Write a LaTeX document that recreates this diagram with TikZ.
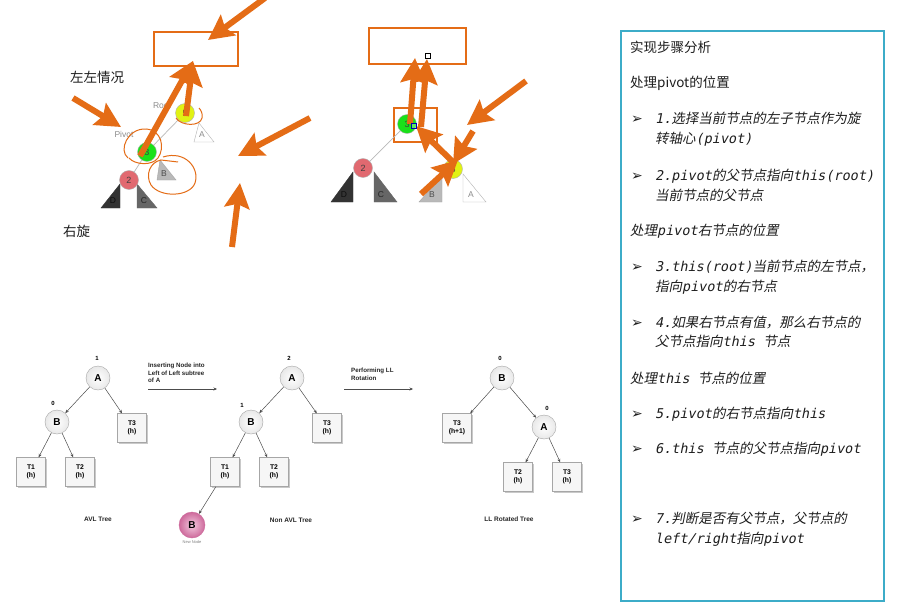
\documentclass[tikz,border=0pt]{standalone}
\usepackage{fontspec}
\setmainfont{Liberation Sans}
\newfontfamily\cjk{Noto Sans CJK SC}
\newfontfamily\cjki{Noto Sans CJK SC}[FakeSlant=0.2]
\newfontfamily\monoi{DejaVu Sans Mono}[FakeSlant=0.2]
\newfontfamily\dingf{DejaVu Sans}
\newcommand\zhI[1]{{\cjki #1}}
\newcommand\enI[1]{{\monoi #1}}
\usetikzlibrary{arrows.meta,shadows}
\definecolor{ann}{RGB}{228,108,22}
\definecolor{panel}{RGB}{60,172,200}
\definecolor{ngreen}{RGB}{25,225,25}
\definecolor{nyellow}{RGB}{225,242,20}
\definecolor{nred}{RGB}{225,105,112}
\definecolor{pinkin}{RGB}{242,200,222}
\definecolor{pinkout}{RGB}{205,105,155}
\definecolor{txt}{RGB}{30,30,30}
\begin{document}
\begin{tikzpicture}[x=1pt,y=-1pt,
  annarrow/.style={draw=ann, line width=6pt, -{Stealth[length=25pt,width=25pt,inset=4pt]}},
  annloop/.style={draw=ann, line width=1pt},
  annbox/.style={draw=ann, line width=1.6pt, inner sep=0pt},
  tnode/.style={circle, draw=gray!60, minimum size=19pt, inner sep=0pt, font=\fontsize{9}{9}\selectfont, text=black!75},
  tlab/.style={font=\fontsize{8.5}{9}\selectfont, text=gray!90},
  tedge/.style={draw=gray!55, line width=0.7pt},
  bcirc/.style={circle, draw=gray!70, minimum size=24pt, inner sep=0pt, inner color=white, outer color=gray!18, font=\bfseries\fontsize{10}{10}\selectfont},
  bbox/.style={draw=gray!70, minimum size=29pt, inner sep=0pt, fill=gray!7, drop shadow={shadow xshift=1.8pt, shadow yshift=-1.8pt, fill=gray!70, opacity=0.6}, align=center, font=\bfseries\fontsize{6.8}{8.2}\selectfont},
  bedge/.style={draw=black!70, line width=0.5pt, -{Stealth[length=3.5pt,width=3pt]}},
  blab/.style={font=\bfseries\fontsize{6.5}{8}\selectfont, text=black!85},
  bnum/.style={font=\bfseries\fontsize{6}{6}\selectfont},
  ptxt/.style={anchor=base west, font=\fontsize{13.5}{16}\selectfont, text=txt, inner sep=0pt},
  bul/.style={anchor=base west, font=\dingf\fontsize{14}{16}\selectfont, text=txt, inner sep=0pt}
]
\useasboundingbox (0,0) rectangle (901,607);
\fill[white] (0,0) rectangle (901,607);

% ---------------- top-left: left-left case ----------------
\node[ptxt] (ll) at (70,83) {\cjk 左左情况};
\node[ptxt] (rr) at (63,236) {\cjk 右旋};
\node[annbox, minimum width=84pt, minimum height=34pt] (boxL) at (196,49) {};

\draw[fill=white, draw=gray!60] (199,123) -- (194,142) -- (214,142) -- cycle;
\draw[fill=gray!55, draw=gray!70] (160,160) -- (157,180) -- (176,180) -- cycle;
\draw[fill=black!80, draw=black!80] (120,184) -- (101,208) -- (120,208) -- cycle;
\draw[fill=black!60, draw=black!60] (137,184) -- (137,208) -- (157,208) -- cycle;
\node[tlab] (lA) at (202,135) {A};
\node[tlab, text=black!70] (lB) at (164,174) {B};
\node[tlab, text=black!95] (lD) at (113,201) {D};
\node[tlab, text=black!85] (lC) at (144,201) {C};

\node[tnode, fill=nyellow] (n5) at (185,113) {5};
\node[tnode, fill=ngreen] (n3) at (147,152) {3};
\node[tnode, fill=nred] (n2) at (129,180) {2};
\draw[tedge] (n5) -- (n3);
\draw[tedge] (n3) -- (n2);
\node[tlab] (root) at (162,106) {Root};
\node[tlab] (pivot) at (124,134) {Pivot};

% hand-drawn loops
\draw[annloop] (128,158) .. controls (118,150) and (128,128) .. (146,129)
   .. controls (162,130) and (165,148) .. (158,158) .. controls (152,166) and (135,165) .. (129,158);
\draw[annloop] (163,157) .. controls (185,150) and (200,168) .. (195,183)
   .. controls (190,197) and (160,198) .. (151,185) .. controls (145,175) and (150,162) .. (161,160) -- (178,162);
\draw[annloop] (176,118) .. controls (181,126) and (200,127) .. (202,118) .. controls (203,114) and (201,110) .. (199,108);

% annotation arrows
\coordinate (a1s) at (265,-2);   \coordinate (a1e) at (208,40);
\coordinate (a2s) at (73,98);    \coordinate (a2e) at (121,127);
\coordinate (a3s) at (140,156);  \coordinate (a3e) at (193,61);
\coordinate (a4s) at (186,116);  \coordinate (a4e) at (193,61);
\coordinate (a5s) at (310,118);  \coordinate (a5e) at (238,156);
\coordinate (a6s) at (232,247);  \coordinate (a6e) at (240,183);
\draw[annarrow] (a1s) -- (a1e);
\draw[annarrow] (a2s) -- (a2e);
\draw[annarrow] (a3s) -- (a3e);
\draw[annarrow] (a4s) -- (a4e);
\draw[annarrow] (a5s) -- (a5e);
\draw[annarrow] (a6s) -- (a6e);

% ---------------- top-middle: after rotation ----------------
\node[annbox, minimum width=97pt, minimum height=36pt] (boxM) at (417.5,46) {};
\node[annbox, minimum width=43pt, minimum height=34pt] (boxP) at (415.5,125) {};

\draw[fill=black!80, draw=black!80] (353,172) -- (331,202) -- (353,202) -- cycle;
\draw[fill=black!60, draw=black!60] (374,172) -- (374,202) -- (397,202) -- cycle;
\draw[fill=gray!55, draw=gray!70] (442,176) -- (419,202) -- (442,202) -- cycle;
\draw[fill=white, draw=gray!60] (463,174) -- (463,202) -- (486,202) -- cycle;
\node[tlab, text=black!95] (mD) at (344,195) {D};
\node[tlab, text=black!85] (mC) at (381,195) {C};
\node[tlab, text=black!70] (mB) at (432,195) {B};
\node[tlab] (mA) at (471,195) {A};

\node[tnode, fill=ngreen] (m3) at (407,124) {3};
\node[tnode, fill=nred] (m2) at (363,168) {2};
\node[tnode, fill=nyellow] (m5) at (453,169) {5};
\draw[tedge] (m3) -- (m2);
\node[draw=black, fill=white, minimum size=5pt, inner sep=0pt, line width=0.6pt] (sqk) at (428,56) {};

\coordinate (b1s) at (410,124);  \coordinate (b1e) at (415,58);
\coordinate (b2s) at (421,127);  \coordinate (b2e) at (427,59);
\coordinate (b3s) at (526,81);   \coordinate (b3e) at (467,125);
\coordinate (b4s) at (473,131);  \coordinate (b4e) at (453,164);
\coordinate (b5s) at (421,194);  \coordinate (b5e) at (458,160);
\coordinate (b6s) at (453,162);  \coordinate (b6e) at (416,126);
\draw[annarrow] (b1s) -- (b1e);
\draw[annarrow] (b2s) -- (b2e);
\draw[annarrow] (b3s) -- (b3e);
\draw[annarrow] (b4s) -- (b4e);
\draw[annarrow] (b5s) -- (b5e);
\draw[annarrow] (b6s) -- (b6e);
\node[draw=blue!70!black, fill=white, fill opacity=0.3, minimum size=5pt, inner sep=0pt, line width=0.6pt] (sqb) at (414,126) {};

% ---------------- bottom: AVL trees ----------------
% tree 1
\node[bcirc] (A1) at (98,378) {A};
\node[bcirc] (B1) at (57,422) {B};
\node[bbox] (T3a) at (132,428) {T3\\(h)};
\node[bbox] (T1a) at (31,472) {T1\\(h)};
\node[bbox] (T2a) at (80,472) {T2\\(h)};
\node[bnum] (nA1) at (97,358) {1};
\node[bnum] (nB1) at (53,403) {0};
\draw[bedge] (A1) -- (B1);
\draw[bedge] (A1) -- (T3a);
\draw[bedge] (B1) -- (T1a);
\draw[bedge] (B1) -- (T2a);
\node[blab] (cap1) at (98,519) {AVL Tree};

\node[blab, anchor=north west, align=left, inner sep=0pt, font=\bfseries\fontsize{6.2}{7.4}\selectfont] (ins) at (148,363) {Inserting Node into\\Left of Left subtree\\of A};
\coordinate (ar1s) at (148,389); \coordinate (ar1e) at (217,389);
\draw[bedge] (ar1s) -- (ar1e);

% tree 2
\node[bcirc] (A2) at (292,378) {A};
\node[bcirc] (B2) at (251,422) {B};
\node[bbox] (T3b) at (327,428) {T3\\(h)};
\node[bbox] (T1b) at (225,472) {T1\\(h)};
\node[bbox] (T2b) at (274,472) {T2\\(h)};
\node[bnum] (nA2) at (289,358) {2};
\node[bnum] (nB2) at (242,405) {1};
\node[bcirc, minimum size=26pt, inner color=pinkin, outer color=pinkout, draw=pinkout] (NB) at (192,525) {B};
\node[font=\fontsize{4}{4}\selectfont, text=gray] (nn) at (192,542) {New Node};
\draw[bedge] (A2) -- (B2);
\draw[bedge] (A2) -- (T3b);
\draw[bedge] (B2) -- (T1b);
\draw[bedge] (B2) -- (T2b);
\draw[bedge] (T1b) -- (NB);
\node[blab] (cap2) at (291,520) {Non AVL Tree};

\node[blab, anchor=north west, align=left, inner sep=0pt, font=\bfseries\fontsize{6.2}{7.4}\selectfont] (perf) at (351,368) {Performing LL\\Rotation};
\coordinate (ar2s) at (344,389); \coordinate (ar2e) at (413,389);
\draw[bedge] (ar2s) -- (ar2e);

% tree 3
\node[bcirc] (B3) at (502,378) {B};
\node[bcirc] (A3) at (544,427) {A};
\node[bbox] (T3c) at (457,428) {T3\\(h+1)};
\node[bbox] (T2c) at (518,477) {T2\\(h)};
\node[bbox] (T3d) at (567,477) {T3\\(h)};
\node[bnum] (nB3) at (500,358) {0};
\node[bnum] (nA3) at (547,408) {0};
\draw[bedge] (B3) -- (T3c);
\draw[bedge] (B3) -- (A3);
\draw[bedge] (A3) -- (T2c);
\draw[bedge] (A3) -- (T3d);
\node[blab] (cap3) at (509,519) {LL Rotated Tree};

% ---------------- right panel ----------------
\node[draw=panel, line width=1.2pt, minimum width=263pt, minimum height=570pt, inner sep=0pt] (panelbox) at (752.5,316) {};
\node[ptxt] (h1) at (630,52.5) {\cjk 实现步骤分析};
\node[ptxt] (h2) at (630,87.5) {\cjk 处理pivot的位置};
\node[bul] (u1) at (631,123) {➢};
\node[ptxt] (s1a) at (655,123) {\enI{1.}\zhI{选择当前节点的左子节点作为旋}};
\node[ptxt] (s1b) at (655,143) {\zhI{转轴心}\enI{(pivot)}};
\node[bul] (u2) at (631,180) {➢};
\node[ptxt] (s2a) at (655,180) {\enI{2.pivot}\zhI{的父节点指向}\enI{this(root)}};
\node[ptxt] (s2b) at (655,200) {\zhI{当前节点的父节点}};
\node[ptxt] (h3) at (630,235) {\zhI{处理}\enI{pivot}\zhI{右节点的位置}};
\node[bul] (u3) at (631,271) {➢};
\node[ptxt] (s3a) at (655,271) {\enI{3.this(root)}\zhI{当前节点的左节点，}};
\node[ptxt] (s3b) at (655,291) {\zhI{指向}\enI{pivot}\zhI{的右节点}};
\node[bul] (u4) at (631,327) {➢};
\node[ptxt] (s4a) at (655,327) {\enI{4.}\zhI{如果右节点有值，那么右节点的}};
\node[ptxt] (s4b) at (655,346) {\zhI{父节点指向}\enI{this }\zhI{节点}};
\node[ptxt] (h4) at (630,383) {\zhI{处理}\enI{this }\zhI{节点的位置}};
\node[bul] (u5) at (631,418) {➢};
\node[ptxt] (s5) at (655,418) {\enI{5.pivot}\zhI{的右节点指向}\enI{this}};
\node[bul] (u6) at (631,453) {➢};
\node[ptxt] (s6) at (655,453) {\enI{6.this }\zhI{节点的父节点指向}\enI{pivot}};
\node[bul] (u7) at (631,523) {➢};
\node[ptxt] (s7a) at (655,523) {\enI{7.}\zhI{判断是否有父节点，父节点的}};
\node[ptxt] (s7b) at (655,543) {\enI{left/right}\zhI{指向}\enI{pivot}};
\end{tikzpicture}
\end{document}
